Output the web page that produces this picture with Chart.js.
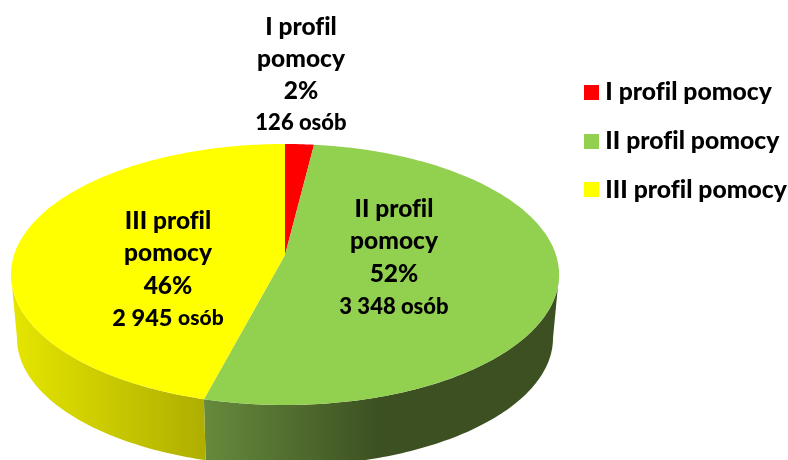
<!DOCTYPE html>
<html>
<head>
<meta charset="utf-8">
<style>
    html, body { margin: 0; padding: 0; background: #fff; overflow: hidden; }
</style>
</head>
<body>
<canvas id="profileChart" width="788" height="460"></canvas>
<script src="https://cdn.jsdelivr.net/npm/chart.js@4"></script>
<script>
const categories = ['I profil pomocy', 'II profil pomocy', 'III profil pomocy'];
const people = [126, 3348, 2945];
const shareLabels = ['2%', '52%', '46%'];
const peopleLabels = ['126', '3 348', '2 945'];
const topColors = ['#FF0000', '#92D050', '#FFFF00'];
const wallColors = [
    ['#A00000', '#800000'],
    ['#668A3C', '#3C5021'],
    ['#E4E400', '#AEAE00']
];

// where the tilted disc lands on the page (perspective: front is bigger than back)
const disc = { cx: 285, cy: 255, a: 271, b: 127.6, p: 0.1494 };
const floor = { cx: 285, cy: 319, a: 265, b: 125, p: 0.1494 };
const labelSpots = [
    { x: 301, y: 27, gap: 32, size: 24.5, numberSize: 22, smallSize: 22 },
    { x: 394, y: 209, gap: 32.5, size: 24.5, numberSize: 22, smallSize: 22 },
    { x: 168, y: 221, gap: 32.5, size: 24.5, numberSize: 23.5, smallSize: 21 }
];
const legendSpot = { left: 565, top: 56 };
const textWeight = 900;

function project(plane, angle) {
    // angle as Chart.js gives it, -PI/2 is straight up
    const u = Math.cos(angle);
    const v = -Math.sin(angle);
    const s = 1 / (1 + plane.p * v);
    return { x: plane.cx + plane.a * u * s, y: plane.cy - plane.b * v * s };
}

function traceRim(ctx, plane, from, to, first) {
    const steps = Math.max(2, Math.ceil(Math.abs(to - from) * 60));
    for (let i = 0; i <= steps; i++) {
        const pt = project(plane, from + (to - from) * i / steps);
        if (i === 0 && first) {
            ctx.moveTo(pt.x, pt.y);
        } else {
            ctx.lineTo(pt.x, pt.y);
        }
    }
}

function drawWall(ctx, arc, colors) {
    // only the part of the rim that faces us
    const limit = Math.asin(disc.p);
    const start = Math.max(arc.startAngle, limit);
    const end = Math.min(arc.endAngle, Math.PI - limit);
    if (end <= start) {
        return;
    }
    const left = project(floor, end).x;
    const right = project(floor, start).x;
    const gradient = ctx.createLinearGradient(left, 0, right, 0);
    if (colors === wallColors[1]) {
        gradient.addColorStop(0, colors[0]);
        gradient.addColorStop(0.5, colors[1]);
        gradient.addColorStop(1, colors[1]);
    } else {
        gradient.addColorStop(0, colors[0]);
        gradient.addColorStop(1, colors[1]);
    }
    ctx.beginPath();
    traceRim(ctx, disc, start, end, true);
    traceRim(ctx, floor, end, start, false);
    ctx.closePath();
    ctx.fillStyle = gradient;
    ctx.fill();
}

function drawTop(ctx, arc, color) {
    ctx.beginPath();
    ctx.moveTo(disc.cx, disc.cy);
    traceRim(ctx, disc, arc.startAngle, arc.endAngle, false);
    ctx.closePath();
    ctx.fillStyle = color;
    ctx.fill();
}

function drawLabels(ctx) {
    ctx.fillStyle = '#000';
    ctx.textBaseline = 'middle';
    categories.forEach((category, index) => {
        const spot = labelSpots[index];
        const words = category.split(' ');
        const bigFont = `${textWeight} ${spot.size}px Lato`;
        const numberFont = `${textWeight} ${spot.numberSize}px Lato`;
        const smallFont = `${textWeight} ${spot.smallSize}px Lato`;
        ctx.textAlign = 'center';
        ctx.font = bigFont;
        ctx.fillText(`${words[0]} ${words[1]}`, spot.x, spot.y);
        ctx.fillText(words[2], spot.x, spot.y + spot.gap);
        ctx.fillText(shareLabels[index], spot.x, spot.y + spot.gap * 2);

        // last line: number and word can differ in size
        const y = spot.y + spot.gap * 3;
        ctx.font = numberFont;
        const numberWidth = ctx.measureText(peopleLabels[index] + ' ').width;
        ctx.font = smallFont;
        const wordWidth = ctx.measureText('osób').width;
        const x = spot.x - (numberWidth + wordWidth) / 2;
        ctx.textAlign = 'left';
        ctx.font = numberFont;
        ctx.fillText(peopleLabels[index] + ' ', x, y);
        ctx.font = smallFont;
        ctx.fillText('osób', x + numberWidth, y);
    });
}

// legend square as an image, so it can sit closer to its text
function legendSquare(color) {
    const square = document.createElement('canvas');
    square.width = 15;
    square.height = 15;
    const squareCtx = square.getContext('2d');
    squareCtx.fillStyle = color;
    squareCtx.fillRect(0, 0, 15, 15);
    return square;
}

const tiltedPie = {
    id: 'tiltedPie',
    afterLayout(chart) {
        chart.legend.left = legendSpot.left;
        chart.legend.top = legendSpot.top;
    },
    beforeDraw(chart) {
        // tiny spacing switches off the fi ligature of Lato
        chart.ctx.letterSpacing = '0.01px';
    },
    beforeDatasetDraw(chart, args) {
        const ctx = chart.ctx;
        const arcs = args.meta.data;
        ctx.save();
        arcs.forEach((arc, index) => drawWall(ctx, arc, wallColors[index]));
        arcs.forEach((arc, index) => drawTop(ctx, arc, topColors[index]));
        drawLabels(ctx);
        ctx.restore();
        return false;
    }
};

new Chart(document.getElementById('profileChart'), {
    type: 'pie',
    data: {
        labels: categories,
        datasets: [{
            data: people,
            backgroundColor: topColors,
            borderWidth: 0
        }]
    },
    options: {
        responsive: false,
        animation: false,
        plugins: {
            tooltip: { enabled: false },
            legend: {
                position: 'right',
                align: 'start',
                labels: {
                    usePointStyle: true,
                    pointStyleWidth: 4,
                    boxHeight: 15,
                    padding: 24,
                    color: '#000',
                    font: { family: 'Lato', size: 24.7, weight: textWeight },
                    generateLabels(chart) {
                        const items = Chart.overrides.pie.plugins.legend.labels.generateLabels(chart);
                        items.forEach((item, index) => {
                            item.pointStyle = legendSquare(topColors[index]);
                        });
                        return items;
                    }
                }
            }
        }
    },
    plugins: [tiltedPie]
});
</script>
</body>
</html>
